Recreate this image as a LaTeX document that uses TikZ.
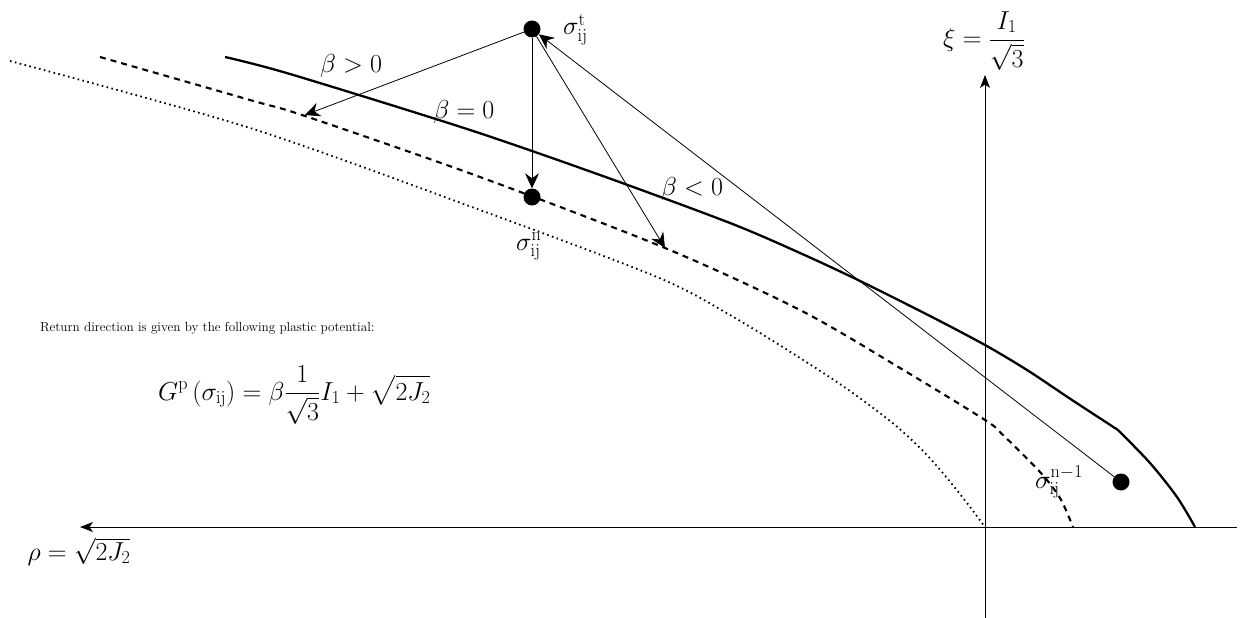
\documentclass[tikz,border=0pt]{standalone}
\usepackage{fix-cm}
\usepackage{amsmath}
\usetikzlibrary{arrows.meta}
\begin{document}
\begin{tikzpicture}[x=1pt,y=-1pt,
  big/.style={font=\fontsize{26}{30}\selectfont, inner sep=0pt},
  small/.style={font=\fontsize{13.2}{16}\selectfont, inner sep=0pt},
  dot/.style={circle, fill=black, minimum size=17pt, inner sep=0pt},
  axis/.style={line width=0.9pt, -{Stealth[length=13pt,width=10pt,inset=3.5pt]}},
  thinarrow/.style={line width=0.8pt, -{Stealth[length=15pt,width=14pt,inset=5pt]}},
  yieldline/.style={line width=2.3pt},
  dashline/.style={line width=2.1pt, dash pattern=on 6pt off 5pt},
  dotline/.style={line width=1.8pt, dash pattern=on 1.6pt off 3.4pt}]
\useasboundingbox (0,0) rectangle (1253,618);
% axes
\coordinate (hR) at (1237,527);
\coordinate (hL) at (80,527);
\coordinate (vB) at (985,618);
\coordinate (vT) at (985,75);
\draw[axis] (hR) -- (hL);
\draw[axis] (vB) -- (vT);
\node[big, anchor=base] (rho) at (79,560) {$\rho=\sqrt{2J_2}$};
\node[big] (xi) at (984,41) {$\xi=\dfrac{I_1}{\sqrt{3}}$};
% curves
\draw[yieldline] plot[smooth] coordinates {(225,57) (290,74) (467,129) (600,175) (730,223) (800,253) (858,280) (930,316) (985,345) (1027,370) (1072,400) (1118,430)};
\draw[yieldline] plot[smooth] coordinates {(1118,430) (1150,463) (1177,497) (1195,527)};
\draw[dashline] plot[smooth] coordinates {(100,57) (250,100) (305,116) (480,177) (665,248) (800,310) (900,368) (985,420) (1003,435) (1040,472) (1060,498) (1073,527)};
\draw[dotline] plot[smooth] coordinates {(10,61) (250,128) (480,210) (657,277) (730,315) (800,358) (850,391) (895,425) (925,453) (947,478) (967,503) (985,527)};
% dots
\node[dot] (st) at (532,29) {};
\node[dot] (sn) at (532,197) {};
\node[dot] (snm) at (1121,482) {};
\coordinate (bp) at (305,115);
\coordinate (bn) at (665,248);
% arrows
\draw[thinarrow] (st) -- (bp);
\draw[thinarrow] (st) -- (sn);
\draw[thinarrow] (st) -- (bn);
\draw[thinarrow] (snm) -- (st);
% labels
\node[big, anchor=base west] (lst) at (563,35) {$\sigma_{\mathrm{ij}}^{\mathrm{t}}$};
\node[big, anchor=base west] (lsn) at (516,250) {$\sigma_{\mathrm{ij}}^{\mathrm{n}}$};
\node[big, anchor=base west] (lsnm) at (1035,488) {$\sigma_{\mathrm{ij}}^{\mathrm{n-1}}$};
\node[big, anchor=base] (bgt) at (351,73) {$\beta>0$};
\node[big, anchor=base] (beq) at (464,118) {$\beta=0$};
\node[big, anchor=base] (blt) at (692,195) {$\beta<0$};
\node[small, anchor=base west] (txt) at (40,331) {Return direction is given by the following plastic potential:};
\node[big, anchor=base west] (form) at (158,400) {$\displaystyle G^{\mathrm{p}}\left(\sigma_{\mathrm{ij}}\right)=\beta\frac{1}{\sqrt{3}}I_1+\sqrt{2J_2}$};
\end{tikzpicture}
\end{document}
